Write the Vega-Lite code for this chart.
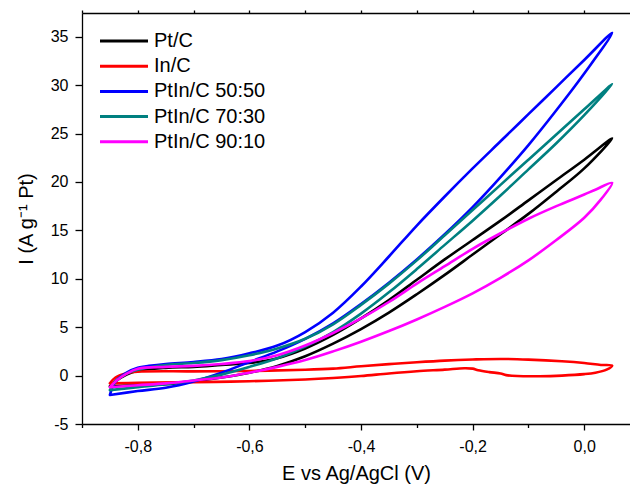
{
  "$schema": "https://vega.github.io/schema/vega-lite/v6.json",
  "width": 548,
  "height": 411,
  "autosize": {"type": "none"},
  "padding": {"left": 82, "top": 13, "right": 0, "bottom": 66},
  "background": "white",
  "config": {
    "font": "Liberation Sans",
    "view": {"stroke": null},
    "axis": {"grid": false, "domainColor": "black", "tickColor": "black", "labelColor": "black", "titleColor": "black", "domainWidth": 1.3, "tickWidth": 1.3, "labelFont": "Liberation Sans", "titleFont": "Liberation Sans", "labelFontSize": 16, "titleFontSize": 20, "titleFontWeight": "normal"}
  },
  "data": {"values": [
    {"s":"Pt/C","i":1,"E":-0.85,"I":-1.1},{"s":"Pt/C","i":2,"E":-0.8,"I":-1.0},{"s":"Pt/C","i":3,"E":-0.75,"I":-0.9},{"s":"Pt/C","i":4,"E":-0.7,"I":-0.6},{"s":"Pt/C","i":5,"E":-0.65,"I":-0.2},{"s":"Pt/C","i":6,"E":-0.6,"I":0.3},{"s":"Pt/C","i":7,"E":-0.55,"I":1.0},{"s":"Pt/C","i":8,"E":-0.5,"I":2.0},{"s":"Pt/C","i":9,"E":-0.45,"I":3.3},{"s":"Pt/C","i":10,"E":-0.4,"I":4.8},{"s":"Pt/C","i":11,"E":-0.35,"I":6.5},{"s":"Pt/C","i":12,"E":-0.3,"I":8.4},{"s":"Pt/C","i":13,"E":-0.25,"I":10.4},{"s":"Pt/C","i":14,"E":-0.2,"I":12.5},{"s":"Pt/C","i":15,"E":-0.15,"I":14.6},{"s":"Pt/C","i":16,"E":-0.1,"I":16.7},{"s":"Pt/C","i":17,"E":-0.05,"I":19.0},{"s":"Pt/C","i":18,"E":0.0,"I":21.4},{"s":"Pt/C","i":19,"E":0.05,"I":24.5},{"s":"Pt/C","i":20,"E":0.0,"I":22.3},{"s":"Pt/C","i":21,"E":-0.05,"I":20.2},{"s":"Pt/C","i":22,"E":-0.1,"I":18.1},{"s":"Pt/C","i":23,"E":-0.15,"I":16.0},{"s":"Pt/C","i":24,"E":-0.2,"I":14.0},{"s":"Pt/C","i":25,"E":-0.25,"I":12.0},{"s":"Pt/C","i":26,"E":-0.3,"I":9.9},{"s":"Pt/C","i":27,"E":-0.35,"I":7.8},{"s":"Pt/C","i":28,"E":-0.4,"I":5.9},{"s":"Pt/C","i":29,"E":-0.45,"I":4.2},{"s":"Pt/C","i":30,"E":-0.5,"I":2.8},{"s":"Pt/C","i":31,"E":-0.55,"I":1.8},{"s":"Pt/C","i":32,"E":-0.6,"I":1.3},{"s":"Pt/C","i":33,"E":-0.65,"I":1.1},{"s":"Pt/C","i":34,"E":-0.7,"I":0.9},{"s":"Pt/C","i":35,"E":-0.75,"I":0.8},{"s":"Pt/C","i":36,"E":-0.8,"I":0.5},{"s":"Pt/C","i":37,"E":-0.82,"I":0.1},{"s":"Pt/C","i":38,"E":-0.84,"I":-0.6},{"s":"Pt/C","i":39,"E":-0.85,"I":-1.1},

    {"s":"In/C","i":1,"E":-0.85,"I":-0.8},{"s":"In/C","i":2,"E":-0.8,"I":-0.75},{"s":"In/C","i":3,"E":-0.7,"I":-0.68},{"s":"In/C","i":4,"E":-0.6,"I":-0.58},{"s":"In/C","i":5,"E":-0.5,"I":-0.4},{"s":"In/C","i":6,"E":-0.45,"I":-0.25},{"s":"In/C","i":7,"E":-0.4,"I":-0.05},{"s":"In/C","i":8,"E":-0.35,"I":0.22},{"s":"In/C","i":9,"E":-0.3,"I":0.45},{"s":"In/C","i":10,"E":-0.25,"I":0.62},{"s":"In/C","i":11,"E":-0.215,"I":0.76},{"s":"In/C","i":12,"E":-0.2,"I":0.72},{"s":"In/C","i":13,"E":-0.19,"I":0.55},{"s":"In/C","i":14,"E":-0.17,"I":0.36},{"s":"In/C","i":15,"E":-0.15,"I":0.22},{"s":"In/C","i":16,"E":-0.14,"I":0.05},{"s":"In/C","i":17,"E":-0.12,"I":-0.05},{"s":"In/C","i":18,"E":-0.08,"I":-0.07},{"s":"In/C","i":19,"E":-0.04,"I":0.0},{"s":"In/C","i":20,"E":0.0,"I":0.15},{"s":"In/C","i":21,"E":0.02,"I":0.3},{"s":"In/C","i":22,"E":0.04,"I":0.62},{"s":"In/C","i":23,"E":0.05,"I":1.03},{"s":"In/C","i":24,"E":0.03,"I":1.1},{"s":"In/C","i":25,"E":0.0,"I":1.3},{"s":"In/C","i":26,"E":-0.04,"I":1.48},{"s":"In/C","i":27,"E":-0.1,"I":1.65},{"s":"In/C","i":28,"E":-0.15,"I":1.72},{"s":"In/C","i":29,"E":-0.2,"I":1.66},{"s":"In/C","i":30,"E":-0.25,"I":1.55},{"s":"In/C","i":31,"E":-0.3,"I":1.38},{"s":"In/C","i":32,"E":-0.35,"I":1.18},{"s":"In/C","i":33,"E":-0.4,"I":0.96},{"s":"In/C","i":34,"E":-0.45,"I":0.72},{"s":"In/C","i":35,"E":-0.5,"I":0.6},{"s":"In/C","i":36,"E":-0.6,"I":0.48},{"s":"In/C","i":37,"E":-0.7,"I":0.44},{"s":"In/C","i":38,"E":-0.8,"I":0.4},{"s":"In/C","i":39,"E":-0.82,"I":0.25},{"s":"In/C","i":40,"E":-0.84,"I":-0.2},{"s":"In/C","i":41,"E":-0.85,"I":-0.8},

    {"s":"PtIn/C 50:50","i":1,"E":-0.85,"I":-2.0},{"s":"PtIn/C 50:50","i":2,"E":-0.8,"I":-1.6},{"s":"PtIn/C 50:50","i":3,"E":-0.75,"I":-1.25},{"s":"PtIn/C 50:50","i":4,"E":-0.7,"I":-0.6},{"s":"PtIn/C 50:50","i":5,"E":-0.65,"I":0.3},{"s":"PtIn/C 50:50","i":6,"E":-0.6,"I":1.4},{"s":"PtIn/C 50:50","i":7,"E":-0.55,"I":2.5},{"s":"PtIn/C 50:50","i":8,"E":-0.5,"I":3.8},{"s":"PtIn/C 50:50","i":9,"E":-0.45,"I":5.4},{"s":"PtIn/C 50:50","i":10,"E":-0.4,"I":7.4},{"s":"PtIn/C 50:50","i":11,"E":-0.35,"I":9.6},{"s":"PtIn/C 50:50","i":12,"E":-0.3,"I":12.0},{"s":"PtIn/C 50:50","i":13,"E":-0.25,"I":14.6},{"s":"PtIn/C 50:50","i":14,"E":-0.2,"I":17.4},{"s":"PtIn/C 50:50","i":15,"E":-0.15,"I":20.5},{"s":"PtIn/C 50:50","i":16,"E":-0.1,"I":23.8},{"s":"PtIn/C 50:50","i":17,"E":-0.05,"I":27.4},{"s":"PtIn/C 50:50","i":18,"E":0.0,"I":31.2},{"s":"PtIn/C 50:50","i":19,"E":0.05,"I":35.4},{"s":"PtIn/C 50:50","i":20,"E":0.0,"I":32.6},{"s":"PtIn/C 50:50","i":21,"E":-0.05,"I":29.8},{"s":"PtIn/C 50:50","i":22,"E":-0.1,"I":27.0},{"s":"PtIn/C 50:50","i":23,"E":-0.15,"I":24.2},{"s":"PtIn/C 50:50","i":24,"E":-0.2,"I":21.4},{"s":"PtIn/C 50:50","i":25,"E":-0.25,"I":18.5},{"s":"PtIn/C 50:50","i":26,"E":-0.3,"I":15.5},{"s":"PtIn/C 50:50","i":27,"E":-0.35,"I":12.3},{"s":"PtIn/C 50:50","i":28,"E":-0.4,"I":9.2},{"s":"PtIn/C 50:50","i":29,"E":-0.45,"I":6.5},{"s":"PtIn/C 50:50","i":30,"E":-0.5,"I":4.5},{"s":"PtIn/C 50:50","i":31,"E":-0.55,"I":3.1},{"s":"PtIn/C 50:50","i":32,"E":-0.6,"I":2.3},{"s":"PtIn/C 50:50","i":33,"E":-0.65,"I":1.7},{"s":"PtIn/C 50:50","i":34,"E":-0.7,"I":1.4},{"s":"PtIn/C 50:50","i":35,"E":-0.75,"I":1.2},{"s":"PtIn/C 50:50","i":36,"E":-0.78,"I":1.0},{"s":"PtIn/C 50:50","i":37,"E":-0.8,"I":0.8},{"s":"PtIn/C 50:50","i":38,"E":-0.82,"I":0.3},{"s":"PtIn/C 50:50","i":39,"E":-0.84,"I":-0.6},{"s":"PtIn/C 50:50","i":40,"E":-0.85,"I":-2.0},

    {"s":"PtIn/C 70:30","i":1,"E":-0.85,"I":-1.5},{"s":"PtIn/C 70:30","i":2,"E":-0.8,"I":-1.2},{"s":"PtIn/C 70:30","i":3,"E":-0.75,"I":-0.9},{"s":"PtIn/C 70:30","i":4,"E":-0.7,"I":-0.5},{"s":"PtIn/C 70:30","i":5,"E":-0.65,"I":0.1},{"s":"PtIn/C 70:30","i":6,"E":-0.6,"I":0.9},{"s":"PtIn/C 70:30","i":7,"E":-0.55,"I":1.8},{"s":"PtIn/C 70:30","i":8,"E":-0.5,"I":3.0},{"s":"PtIn/C 70:30","i":9,"E":-0.45,"I":4.5},{"s":"PtIn/C 70:30","i":10,"E":-0.4,"I":6.4},{"s":"PtIn/C 70:30","i":11,"E":-0.35,"I":8.6},{"s":"PtIn/C 70:30","i":12,"E":-0.3,"I":11.0},{"s":"PtIn/C 70:30","i":13,"E":-0.25,"I":13.5},{"s":"PtIn/C 70:30","i":14,"E":-0.2,"I":16.0},{"s":"PtIn/C 70:30","i":15,"E":-0.15,"I":18.6},{"s":"PtIn/C 70:30","i":16,"E":-0.1,"I":21.3},{"s":"PtIn/C 70:30","i":17,"E":-0.05,"I":24.0},{"s":"PtIn/C 70:30","i":18,"E":0.0,"I":26.9},{"s":"PtIn/C 70:30","i":19,"E":0.05,"I":30.1},{"s":"PtIn/C 70:30","i":20,"E":0.0,"I":27.5},{"s":"PtIn/C 70:30","i":21,"E":-0.05,"I":24.9},{"s":"PtIn/C 70:30","i":22,"E":-0.1,"I":22.3},{"s":"PtIn/C 70:30","i":23,"E":-0.15,"I":19.7},{"s":"PtIn/C 70:30","i":24,"E":-0.2,"I":17.1},{"s":"PtIn/C 70:30","i":25,"E":-0.25,"I":14.5},{"s":"PtIn/C 70:30","i":26,"E":-0.3,"I":11.9},{"s":"PtIn/C 70:30","i":27,"E":-0.35,"I":9.5},{"s":"PtIn/C 70:30","i":28,"E":-0.4,"I":7.3},{"s":"PtIn/C 70:30","i":29,"E":-0.45,"I":5.3},{"s":"PtIn/C 70:30","i":30,"E":-0.5,"I":3.8},{"s":"PtIn/C 70:30","i":31,"E":-0.55,"I":2.8},{"s":"PtIn/C 70:30","i":32,"E":-0.6,"I":2.1},{"s":"PtIn/C 70:30","i":33,"E":-0.65,"I":1.6},{"s":"PtIn/C 70:30","i":34,"E":-0.7,"I":1.3},{"s":"PtIn/C 70:30","i":35,"E":-0.75,"I":1.1},{"s":"PtIn/C 70:30","i":36,"E":-0.8,"I":0.6},{"s":"PtIn/C 70:30","i":37,"E":-0.82,"I":0.2},{"s":"PtIn/C 70:30","i":38,"E":-0.84,"I":-0.6},{"s":"PtIn/C 70:30","i":39,"E":-0.85,"I":-1.5},

    {"s":"PtIn/C 90:10","i":1,"E":-0.85,"I":-1.2},{"s":"PtIn/C 90:10","i":2,"E":-0.8,"I":-1.0},{"s":"PtIn/C 90:10","i":3,"E":-0.75,"I":-0.8},{"s":"PtIn/C 90:10","i":4,"E":-0.7,"I":-0.5},{"s":"PtIn/C 90:10","i":5,"E":-0.65,"I":-0.2},{"s":"PtIn/C 90:10","i":6,"E":-0.6,"I":0.3},{"s":"PtIn/C 90:10","i":7,"E":-0.55,"I":0.9},{"s":"PtIn/C 90:10","i":8,"E":-0.5,"I":1.6},{"s":"PtIn/C 90:10","i":9,"E":-0.45,"I":2.5},{"s":"PtIn/C 90:10","i":10,"E":-0.4,"I":3.5},{"s":"PtIn/C 90:10","i":11,"E":-0.35,"I":4.6},{"s":"PtIn/C 90:10","i":12,"E":-0.3,"I":5.8},{"s":"PtIn/C 90:10","i":13,"E":-0.25,"I":7.1},{"s":"PtIn/C 90:10","i":14,"E":-0.2,"I":8.5},{"s":"PtIn/C 90:10","i":15,"E":-0.15,"I":10.1},{"s":"PtIn/C 90:10","i":16,"E":-0.1,"I":11.9},{"s":"PtIn/C 90:10","i":17,"E":-0.05,"I":14.0},{"s":"PtIn/C 90:10","i":18,"E":0.0,"I":16.3},{"s":"PtIn/C 90:10","i":19,"E":0.03,"I":18.2},{"s":"PtIn/C 90:10","i":20,"E":0.05,"I":19.9},{"s":"PtIn/C 90:10","i":21,"E":0.02,"I":19.2},{"s":"PtIn/C 90:10","i":22,"E":0.0,"I":18.7},{"s":"PtIn/C 90:10","i":23,"E":-0.05,"I":17.5},{"s":"PtIn/C 90:10","i":24,"E":-0.1,"I":16.2},{"s":"PtIn/C 90:10","i":25,"E":-0.15,"I":14.7},{"s":"PtIn/C 90:10","i":26,"E":-0.2,"I":13.1},{"s":"PtIn/C 90:10","i":27,"E":-0.25,"I":11.3},{"s":"PtIn/C 90:10","i":28,"E":-0.3,"I":9.5},{"s":"PtIn/C 90:10","i":29,"E":-0.35,"I":7.6},{"s":"PtIn/C 90:10","i":30,"E":-0.4,"I":5.9},{"s":"PtIn/C 90:10","i":31,"E":-0.45,"I":4.4},{"s":"PtIn/C 90:10","i":32,"E":-0.5,"I":3.1},{"s":"PtIn/C 90:10","i":33,"E":-0.55,"I":2.1},{"s":"PtIn/C 90:10","i":34,"E":-0.6,"I":1.5},{"s":"PtIn/C 90:10","i":35,"E":-0.65,"I":1.2},{"s":"PtIn/C 90:10","i":36,"E":-0.7,"I":1.0},{"s":"PtIn/C 90:10","i":37,"E":-0.75,"I":0.9},{"s":"PtIn/C 90:10","i":38,"E":-0.8,"I":0.7},{"s":"PtIn/C 90:10","i":39,"E":-0.82,"I":0.2},{"s":"PtIn/C 90:10","i":40,"E":-0.84,"I":-0.6},{"s":"PtIn/C 90:10","i":41,"E":-0.85,"I":-1.2}
  ]},
  "resolve": {"axis": {"x": "independent"}},
  "layer": [
    {
      "mark": {"type": "line", "strokeOpacity": 0},
      "encoding": {
        "x": {
          "field": "E", "type": "quantitative",
          "scale": {"domain": [-0.9, 0.082], "nice": false, "zero": false},
          "axis": {"orient": "top", "title": null, "labels": false, "values": [-0.9, -0.8, -0.7, -0.6, -0.5, -0.4, -0.3, -0.2, -0.1, 0.0], "tickSize": 3}
        },
        "y": {"field": "I", "type": "quantitative"},
        "detail": {"field": "s", "type": "nominal"},
        "order": {"field": "i", "type": "quantitative"}
      }
    },
    {
      "mark": {"type": "line", "interpolate": "catmull-rom", "strokeWidth": 2.6, "strokeJoin": "round", "strokeCap": "round"},
      "encoding": {
        "x": {
          "field": "E", "type": "quantitative",
          "scale": {"domain": [-0.9, 0.082], "nice": false, "zero": false},
          "axis": {
            "orient": "bottom",
            "title": "E vs Ag/AgCl (V)",
            "values": [-0.9, -0.8, -0.7, -0.6, -0.5, -0.4, -0.3, -0.2, -0.1, 0.0],
            "labelExpr": "abs(round(datum.value*10)) % 2 == 0 ? (datum.value < -0.001 ? '-' : '') + replace(format(abs(datum.value), '.1f'), '.', ',') : ''",
            "tickSize": {"condition": {"test": "abs(round(datum.value*10)) % 2 == 0", "value": 6}, "value": 3.5},
            "labelPadding": 8,
            "titlePadding": 9,
            "labelFlush": false
          }
        },
        "y": {
          "field": "I", "type": "quantitative",
          "scale": {"domain": [-5, 37.45], "nice": false, "zero": false},
          "axis": {
            "title": "I (A g⁻¹ Pt)",
            "values": [-5, -2.5, 0, 2.5, 5, 7.5, 10, 12.5, 15, 17.5, 20, 22.5, 25, 27.5, 30, 32.5, 35],
            "labelExpr": "datum.value % 5 == 0 ? (datum.value < 0 ? '-' : '') + abs(datum.value) : ''",
            "tickSize": {"condition": {"test": "datum.value % 5 == 0", "value": 7}, "value": 4},
            "labelPadding": 7,
            "titlePadding": 14,
            "labelFlush": false
          }
        },
        "color": {
          "field": "s", "type": "nominal",
          "scale": {"domain": ["Pt/C", "In/C", "PtIn/C 50:50", "PtIn/C 70:30", "PtIn/C 90:10"], "range": ["#000000", "#ff0000", "#0000ff", "#008080", "#ff00ff"]},
          "legend": {
            "orient": "none", "legendX": 32, "legendY": 18, "title": null,
            "symbolType": "M-3,0H3", "symbolSize": 256, "symbolStrokeWidth": 3,
            "labelFontSize": 20, "labelFont": "Liberation Sans", "labelColor": "black",
            "labelOffset": 20, "rowPadding": 5.2, "padding": 0, "labelLimit": 300
          }
        },
        "order": {"field": "i", "type": "quantitative"}
      }
    }
  ]
}
